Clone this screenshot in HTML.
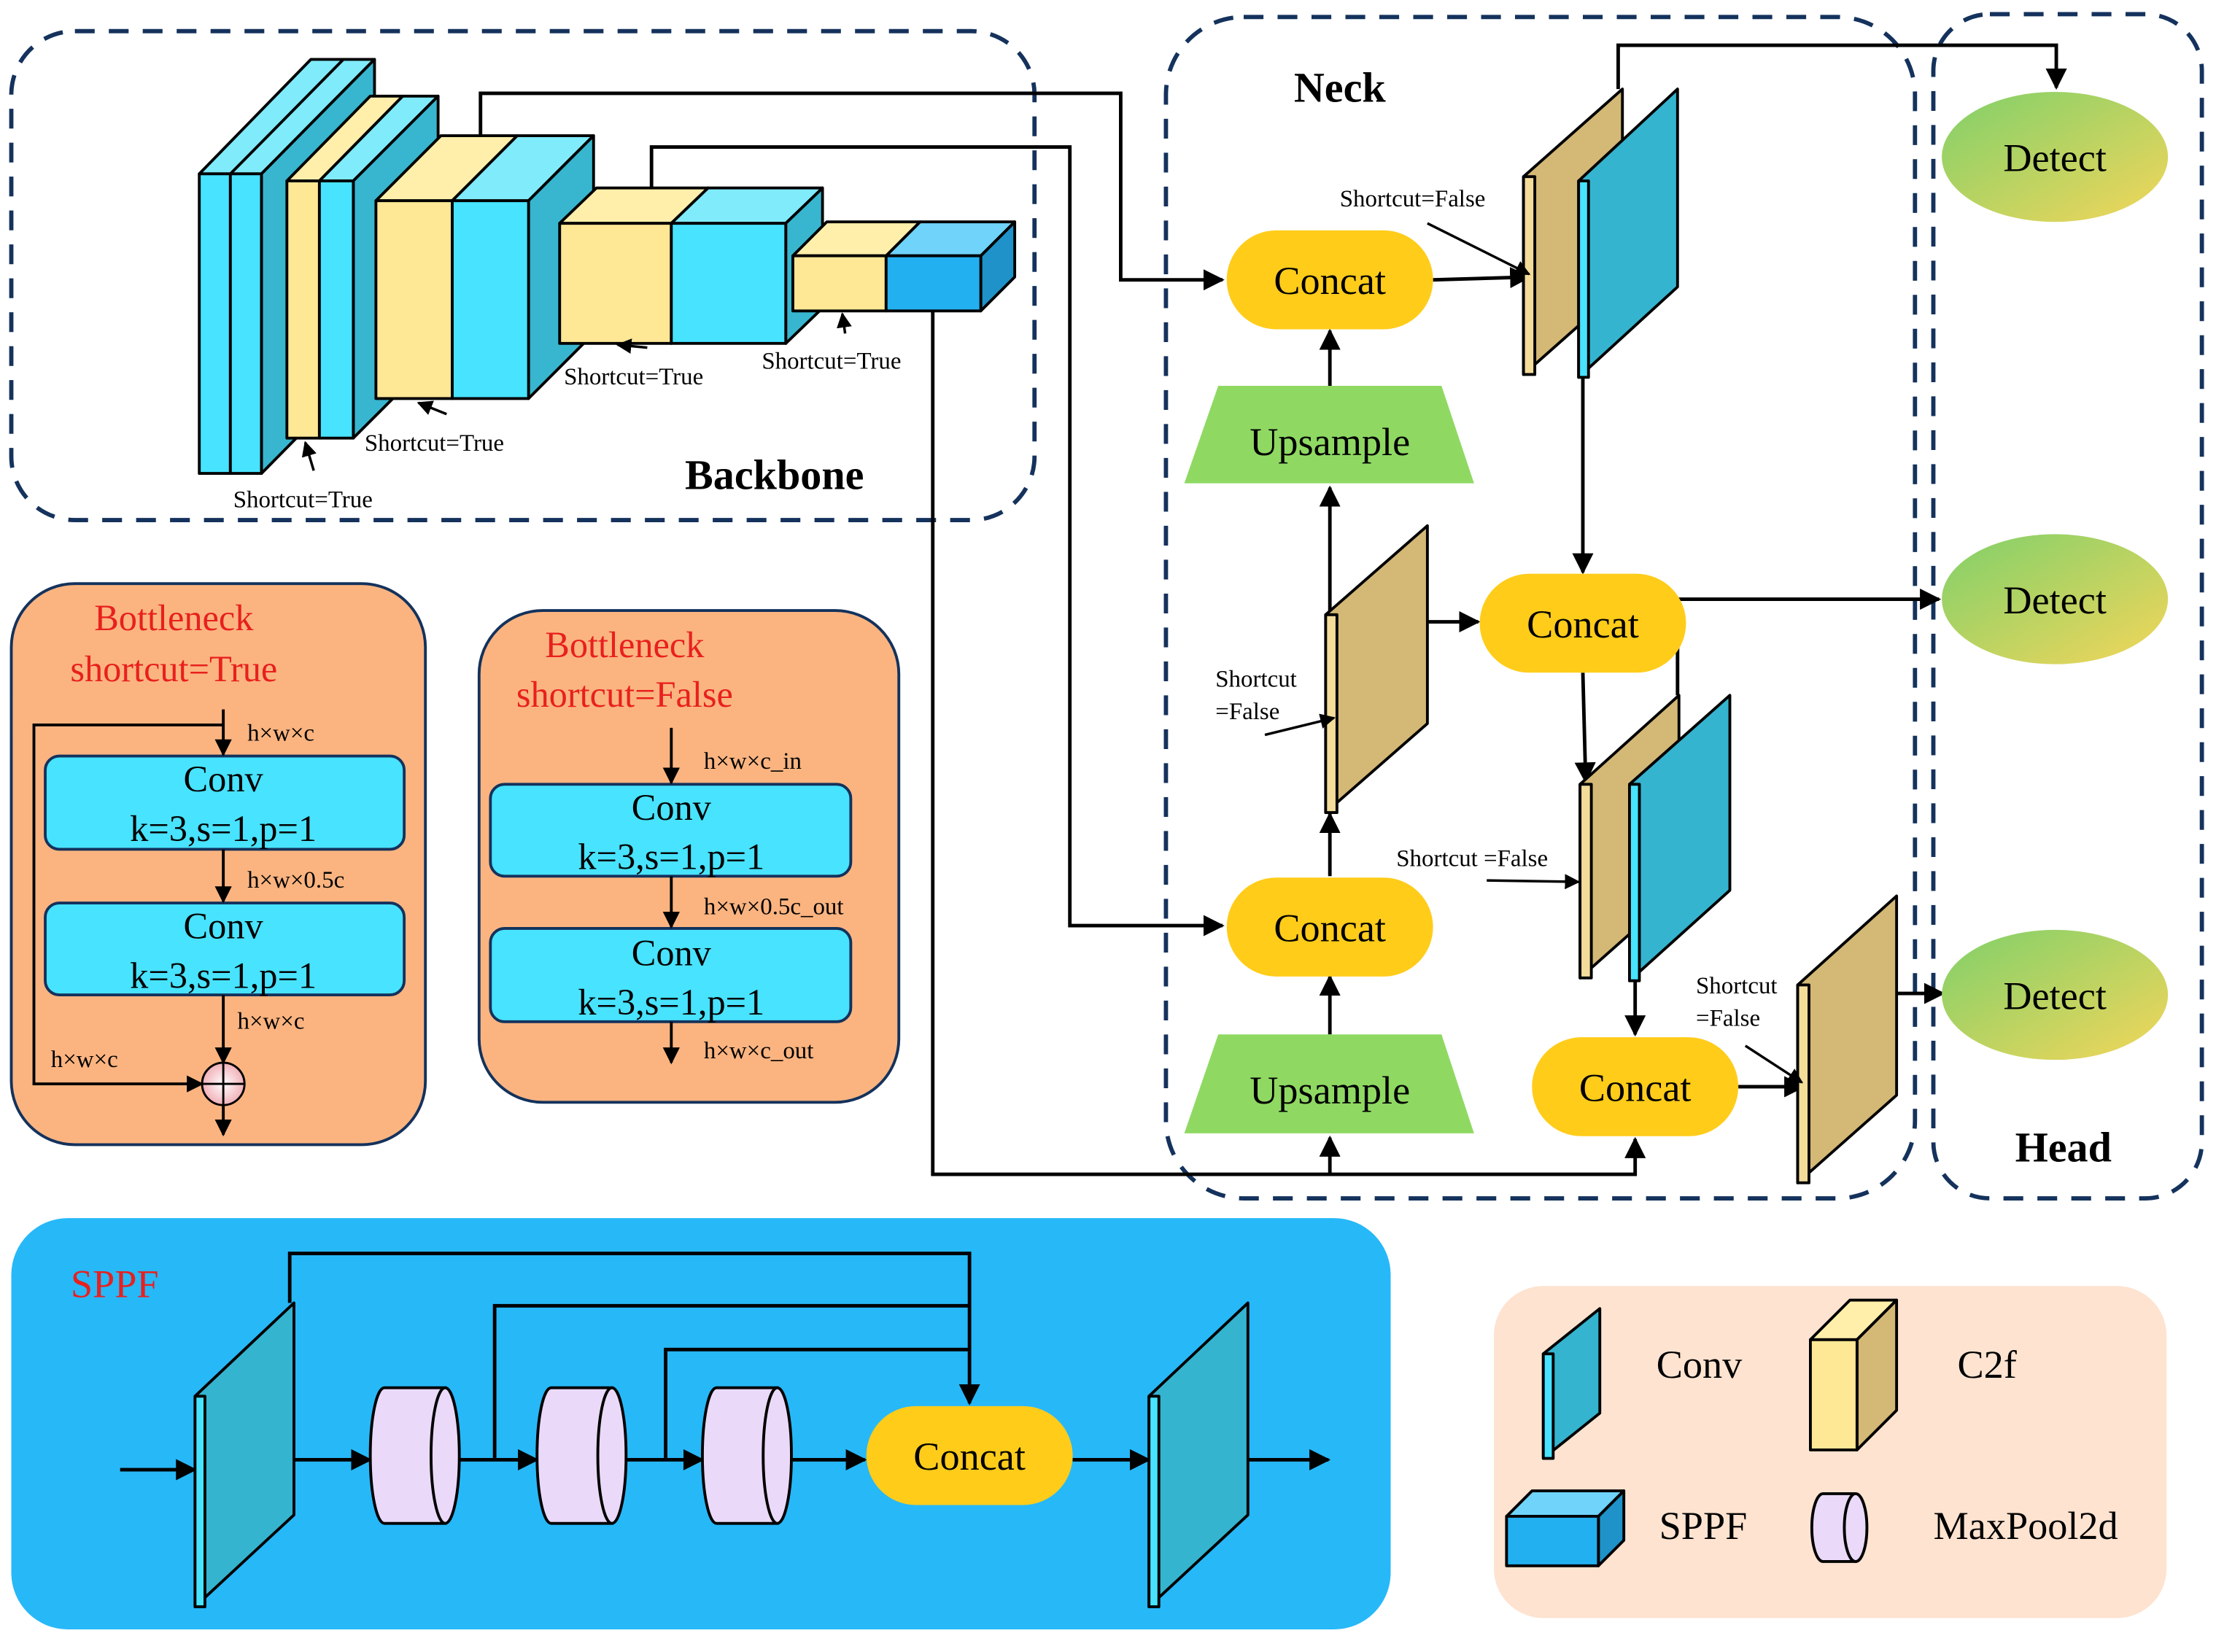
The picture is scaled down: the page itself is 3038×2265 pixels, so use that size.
<!DOCTYPE html>
<html><head><meta charset="utf-8"><style>html,body{margin:0;padding:0;background:#fff}svg{display:block}</style></head><body>
<svg width="3038" height="2265" viewBox="0 0 1568 1169" xmlns="http://www.w3.org/2000/svg" font-family="'Liberation Serif',serif">
<defs>
<marker id="ar" viewBox="0 0 10 10" refX="9" refY="5" markerWidth="6" markerHeight="6" orient="auto"><path d="M0,0L10,5L0,10z" fill="#000"/></marker>
<linearGradient id="dg" x1="0" y1="0" x2="1" y2="1"><stop offset="0" stop-color="#7fd06a"/><stop offset="1" stop-color="#f4d65a"/></linearGradient>
<radialGradient id="pg"><stop offset="0" stop-color="#fff"/><stop offset="1" stop-color="#f0b0b8"/></radialGradient>
</defs>
<g fill="none" stroke="#14325c" stroke-width="3" stroke-dasharray="14,10">
<rect x="8" y="22" width="724" height="346" rx="45"/>
<rect x="825" y="12" width="530" height="836" rx="55"/>
<rect x="1368" y="10" width="190" height="838" rx="40"/>
</g>
<g fill="none" stroke="#000" stroke-width="2.5">
<polyline points="340,96 340,66 793,66 793,198 865,198" marker-end="url(#ar)"/>
<polyline points="461,133 461,104 757,104 757,655 865,655" marker-end="url(#ar)"/>
<polyline points="660,220 660,831 1157,831 1157,806" marker-end="url(#ar)"/>
<line x1="941" y1="831" x2="941" y2="805" marker-end="url(#ar)"/>
</g>
<g stroke="#000" stroke-width="2" stroke-linejoin="round">
<polygon points="141,123 220,42 265,42 185,123" fill="#80EBFB"/>
<line x1="163" y1="123" x2="243" y2="42"/>
<polygon points="185,123 265,42 265,254 185,335" fill="#38B6CF"/>
<rect x="141" y="123" width="22" height="212" fill="#48E3FF"/><rect x="163" y="123" width="22" height="212" fill="#48E3FF"/>
<polygon points="203,128 262,68 285,68 226,128" fill="#FFEFAA"/>
<polygon points="226,128 285,68 310,68 250,128" fill="#80EBFB"/>
<polygon points="250,128 310,68 310,250 250,310" fill="#38B6CF"/>
<rect x="203" y="128" width="23" height="182" fill="#FEE795"/><rect x="226" y="128" width="24" height="182" fill="#48E3FF"/>
<polygon points="266,142 312,96 366,96 320,142" fill="#FFEFAA"/>
<polygon points="320,142 366,96 420,96 374,142" fill="#80EBFB"/>
<polygon points="374,142 420,96 420,236 374,282" fill="#38B6CF"/>
<rect x="266" y="142" width="54" height="140" fill="#FEE795"/><rect x="320" y="142" width="54" height="140" fill="#48E3FF"/>
<polygon points="396,158 422,133 501,133 475,158" fill="#FFEFAA"/>
<polygon points="475,158 501,133 582,133 556,158" fill="#80EBFB"/>
<polygon points="556,158 582,133 582,218 556,243" fill="#38B6CF"/>
<rect x="396" y="158" width="79" height="85" fill="#FEE795"/><rect x="475" y="158" width="81" height="85" fill="#48E3FF"/>
<polygon points="561,181 585,157 651,157 627,181" fill="#FFEFAA"/>
<polygon points="627,181 651,157 718,157 694,181" fill="#6FD3FA"/>
<polygon points="694,181 718,157 718,196 694,220" fill="#1E92C9"/>
<rect x="561" y="181" width="66" height="39" fill="#FEE795"/><rect x="627" y="181" width="67" height="39" fill="#23B0F0"/>
</g>
<g font-size="17">
<text x="165" y="359">Shortcut=True</text><text x="258" y="319">Shortcut=True</text>
<text x="399" y="272">Shortcut=True</text><text x="539" y="261">Shortcut=True</text>
</g>
<g stroke="#000" stroke-width="1.8" marker-end="url(#ar)">
<line x1="222" y1="333" x2="216" y2="313"/><line x1="316" y1="293" x2="296" y2="285"/>
<line x1="458" y1="246" x2="437" y2="244"/><line x1="598" y1="236" x2="596" y2="222"/>
</g>
<text x="548" y="346" font-size="30" font-weight="bold" text-anchor="middle">Backbone</text>
<text x="948" y="72" font-size="30" font-weight="bold" text-anchor="middle">Neck</text>
<text x="1460" y="822" font-size="30" font-weight="bold" text-anchor="middle">Head</text>
<g fill="none" stroke="#000" stroke-width="2.5">
<line x1="1014" y1="198" x2="1082" y2="196" marker-end="url(#ar)"/>
<polyline points="1145,63 1145,32 1455,32 1455,62" marker-end="url(#ar)"/>
<line x1="1120" y1="265" x2="1120" y2="405" marker-end="url(#ar)"/>
<line x1="941" y1="273" x2="941" y2="234" marker-end="url(#ar)"/>
<line x1="941" y1="435" x2="941" y2="345" marker-end="url(#ar)"/>
<line x1="941" y1="620" x2="941" y2="576" marker-end="url(#ar)"/>
<line x1="941" y1="732" x2="941" y2="691" marker-end="url(#ar)"/>
<line x1="1010" y1="440" x2="1046" y2="440" marker-end="url(#ar)"/>
<polyline points="1187,424 1372,424" marker-end="url(#ar)"/>
<line x1="1187" y1="424" x2="1187" y2="492"/>
<line x1="1120" y1="476" x2="1122" y2="553" marker-end="url(#ar)"/>
<line x1="1157" y1="694" x2="1157" y2="732" marker-end="url(#ar)"/>
<line x1="1230" y1="769" x2="1276" y2="769" marker-end="url(#ar)"/>
<line x1="1342" y1="703" x2="1375" y2="703" marker-end="url(#ar)"/>
</g>
<g stroke="#000" stroke-width="2" stroke-linejoin="round">
<polygon points="1078,125 1148,63 1148,203 1078,265" fill="#D4B876"/><rect x="1078" y="125" width="8" height="140" fill="#F3DC9A"/>
<polygon points="1117,128 1187,63 1187,203 1117,267" fill="#35B4CF"/><rect x="1117" y="128" width="7" height="139" fill="#48E3FF"/>
<polygon points="938,435 1010,372 1010,512 938,575" fill="#D4B876"/><rect x="938" y="435" width="8" height="140" fill="#F3DC9A"/>
<polygon points="1118,555 1188,492 1188,630 1118,692" fill="#D4B876"/><rect x="1118" y="555" width="8" height="137" fill="#F3DC9A"/>
<polygon points="1153,555 1224,492 1224,630 1153,694" fill="#35B4CF"/><rect x="1153" y="555" width="7" height="139" fill="#48E3FF"/>
<polygon points="1272,697 1342,634 1342,775 1272,837" fill="#D4B876"/><rect x="1272" y="697" width="8" height="140" fill="#F3DC9A"/>
</g>
<g fill="#FFCC1A">
<rect x="868" y="163" width="146" height="70" rx="35"/><rect x="1047" y="406" width="146" height="70" rx="35"/>
<rect x="868" y="621" width="146" height="70" rx="35"/><rect x="1084" y="734" width="146" height="70" rx="35"/>
</g>
<g font-size="28" text-anchor="middle">
<text x="941" y="208">Concat</text><text x="1120" y="451">Concat</text><text x="941" y="666">Concat</text><text x="1157" y="779">Concat</text>
</g>
<polygon points="862,273 1020,273 1043,342 838,342" fill="#8FD963"/>
<polygon points="862,732 1020,732 1043,802 838,802" fill="#8FD963"/>
<text x="941" y="322" font-size="28" text-anchor="middle">Upsample</text>
<text x="941" y="781" font-size="28" text-anchor="middle">Upsample</text>
<g fill="url(#dg)"><ellipse cx="1454" cy="111" rx="80" ry="46"/><ellipse cx="1454" cy="424" rx="80" ry="46"/><ellipse cx="1454" cy="704" rx="80" ry="46"/></g>
<g font-size="28" text-anchor="middle"><text x="1454" y="121">Detect</text><text x="1454" y="434">Detect</text><text x="1454" y="714">Detect</text></g>
<g font-size="17">
<text x="948" y="146">Shortcut=False</text>
<text x="860" y="486">Shortcut</text><text x="860" y="509">=False</text>
<text x="988" y="613">Shortcut =False</text>
<text x="1200" y="703">Shortcut</text><text x="1200" y="726">=False</text>
</g>
<g stroke="#000" stroke-width="1.8" marker-end="url(#ar)">
<line x1="1010" y1="158" x2="1082" y2="194"/><line x1="895" y1="520" x2="944" y2="508"/>
<line x1="1052" y1="623" x2="1117" y2="624"/><line x1="1235" y1="740" x2="1275" y2="766"/>
</g>
<rect x="8" y="413" width="293" height="397" rx="45" fill="#FBB480" stroke="#14325c" stroke-width="2"/>
<rect x="339" y="432" width="297" height="348" rx="45" fill="#FBB480" stroke="#14325c" stroke-width="2"/>
<g fill="#E8201E" font-size="26" text-anchor="middle">
<text x="123" y="446">Bottleneck</text><text x="123" y="482">shortcut=True</text>
<text x="442" y="465">Bottleneck</text><text x="442" y="500">shortcut=False</text>
</g>
<g fill="#48E3FF" stroke="#14325c" stroke-width="2">
<rect x="32" y="535" width="254" height="66" rx="10"/><rect x="32" y="639" width="254" height="65" rx="10"/>
<rect x="347" y="555" width="255" height="65" rx="10"/><rect x="347" y="657" width="255" height="66" rx="10"/>
</g>
<g font-size="26" text-anchor="middle">
<text x="158" y="560">Conv</text><text x="158" y="595">k=3,s=1,p=1</text>
<text x="158" y="664">Conv</text><text x="158" y="699">k=3,s=1,p=1</text>
<text x="475" y="580">Conv</text><text x="475" y="615">k=3,s=1,p=1</text>
<text x="475" y="683">Conv</text><text x="475" y="718">k=3,s=1,p=1</text>
</g>
<g fill="none" stroke="#000" stroke-width="2">
<line x1="158" y1="502" x2="158" y2="534" marker-end="url(#ar)"/>
<polyline points="158,513 24,513 24,767 143,767" marker-end="url(#ar)"/>
<line x1="158" y1="601" x2="158" y2="638" marker-end="url(#ar)"/>
<line x1="158" y1="704" x2="158" y2="752" marker-end="url(#ar)"/>
<line x1="158" y1="781" x2="158" y2="803" marker-end="url(#ar)"/>
<line x1="475" y1="515" x2="475" y2="554" marker-end="url(#ar)"/>
<line x1="475" y1="620" x2="475" y2="656" marker-end="url(#ar)"/>
<line x1="475" y1="723" x2="475" y2="752" marker-end="url(#ar)"/>
</g>
<circle cx="158" cy="767" r="15" fill="url(#pg)" stroke="#000" stroke-width="1.5"/>
<path d="M143,767H173M158,752V782" stroke="#000" stroke-width="1.5"/>
<g font-size="17">
<text x="175" y="524">h×w×c</text><text x="175" y="628">h×w×0.5c</text><text x="168" y="728">h×w×c</text><text x="36" y="755">h×w×c</text>
<text x="498" y="544">h×w×c_in</text><text x="498" y="647">h×w×0.5c_out</text><text x="498" y="749">h×w×c_out</text>
</g>
<rect x="8" y="862" width="976" height="291" rx="40" fill="#27B8F8"/>
<text x="50" y="918" fill="#E8201E" font-size="28">SPPF</text>
<g fill="none" stroke="#000" stroke-width="2.5">
<polyline points="205,922 205,887 686,887 686,993" marker-end="url(#ar)"/>
<polyline points="350,1033 350,924 686,924"/>
<polyline points="471,1033 471,955 686,955"/>
<line x1="85" y1="1040" x2="138" y2="1040" marker-end="url(#ar)"/>
<line x1="208" y1="1033" x2="262" y2="1033" marker-end="url(#ar)"/>
<line x1="325" y1="1033" x2="380" y2="1033" marker-end="url(#ar)"/>
<line x1="443" y1="1033" x2="497" y2="1033" marker-end="url(#ar)"/>
<line x1="560" y1="1033" x2="612" y2="1033" marker-end="url(#ar)"/>
<line x1="759" y1="1033" x2="813" y2="1033" marker-end="url(#ar)"/>
<line x1="883" y1="1033" x2="940" y2="1033" marker-end="url(#ar)"/>
</g>
<rect x="613" y="995" width="146" height="70" rx="35" fill="#FFCC1A"/>
<text x="686" y="1040" font-size="28" text-anchor="middle">Concat</text>
<g stroke="#000" stroke-width="2" stroke-linejoin="round">
<polygon points="138,988 208,922 208,1072 138,1137" fill="#35B4CF"/><rect x="138" y="988" width="7" height="149" fill="#48E3FF"/>
<polygon points="813,988 883,922 883,1072 813,1137" fill="#35B4CF"/><rect x="813" y="988" width="7" height="149" fill="#48E3FF"/>
</g>
<g stroke="#000" stroke-width="2" fill="#EAD9F8">
<path d="M272,982H315V1078H272A10,48 0 0 1 272,982Z"/><ellipse cx="315" cy="1030" rx="10" ry="48"/>
<path d="M390,982H433V1078H390A10,48 0 0 1 390,982Z"/><ellipse cx="433" cy="1030" rx="10" ry="48"/>
<path d="M507,982H550V1078H507A10,48 0 0 1 507,982Z"/><ellipse cx="550" cy="1030" rx="10" ry="48"/>
</g>
<rect x="1057" y="910" width="476" height="235" rx="35" fill="#FDE3D0"/>
<g stroke="#000" stroke-width="2" stroke-linejoin="round">
<polygon points="1092,958 1132,926 1132,1000 1092,1032" fill="#35B4CF"/><rect x="1092" y="958" width="7" height="74" fill="#48E3FF"/>
<polygon points="1281,948 1309,920 1342,920 1314,948" fill="#FFEFAA"/>
<polygon points="1314,948 1342,920 1342,998 1314,1026" fill="#D4B876"/>
<rect x="1281" y="948" width="33" height="78" fill="#FEE795"/>
<polygon points="1066,1073 1084,1055 1149,1055 1131,1073" fill="#6FD3FA"/>
<polygon points="1131,1073 1149,1055 1149,1090 1131,1108" fill="#1E92C9"/>
<rect x="1066" y="1073" width="65" height="35" fill="#23B0F0"/>
<path d="M1290,1057H1313V1105H1290A8,24 0 0 1 1290,1057Z" fill="#EAD9F8"/><ellipse cx="1313" cy="1081" rx="8" ry="24" fill="#EAD9F8"/>
</g>
<g font-size="28">
<text x="1172" y="975">Conv</text><text x="1385" y="975">C2f</text>
<text x="1174" y="1089">SPPF</text><text x="1368" y="1089">MaxPool2d</text>
</g>
</svg>
</body></html>
